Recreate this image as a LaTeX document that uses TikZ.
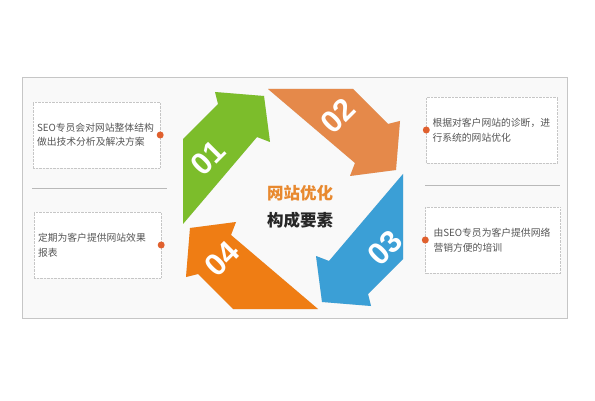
\documentclass[tikz,border=0pt]{standalone}
\usepackage{fontspec}
\usepackage{tikz}
\newfontfamily\cjk{Noto Sans CJK SC}
\setsansfont{Liberation Sans}
\usetikzlibrary{positioning}

\definecolor{arrowgreen}{HTML}{7CBD2B}
\definecolor{arrowsalmon}{HTML}{E5894A}
\definecolor{arrowblue}{HTML}{3B9FD6}
\definecolor{arroworange}{HTML}{EF7D14}
\definecolor{dotred}{HTML}{E0602E}
\definecolor{titleorange}{HTML}{E8892F}
\definecolor{textgray}{HTML}{555555}

\begin{document}
\begin{tikzpicture}[x=1pt,y=-1pt,
   font=\cjk,
   panel/.style={draw=gray!45,fill=gray!5,line width=0.8pt},
   note/.style={draw=gray!45,densely dotted,fill=white,minimum width=127pt,minimum height=66pt,
      text width=119pt,align=left,inner sep=4pt,text=textgray,
      font=\cjk\fontsize{9.8}{14.5}\selectfont},
   dot/.style={circle,fill=dotred,inner sep=0pt,minimum size=7pt},
   rule/.style={gray!55,line width=0.8pt},
   arrowshape/.style={insert path={(-110,25) -- (-110,-60) -- (-75,-95) -- (-78,-107)
      -- (-29,-103) -- (-23,-57) -- (-36,-62) -- cycle}},
   num/.style={text=white,font=\sffamily\bfseries\fontsize{31}{31}\selectfont,rotate=45,inner sep=0pt},
   title/.style={font=\cjk\bfseries\fontsize{16.5}{18}\selectfont}]
\fill[white] (0,0) rectangle (595,401);
\useasboundingbox (0,0) rectangle (595,401);
\draw[panel] (22,77) rectangle (567,318);

% cycle of arrows
\coordinate (ctr) at (293,199);
\foreach \ang in {0,-90,-180,-270}
   \fill[black!12,shift={(2,3)},shift={(ctr)},rotate=\ang,arrowshape];
\foreach \ang/\col in {0/arrowgreen,-90/arrowsalmon,-180/arrowblue,-270/arroworange}
   \fill[\col,shift={(ctr)},rotate=\ang,arrowshape];
\node[num] (n1) at (208,158) {01};
\node[num] (n2) at (338,116) {02};
\node[num] (n3) at (385,248) {03};
\node[num] (n4) at (222,259) {04};

\node[title,text=titleorange] (t1) at (300,193) {网站优化};
\node[title,text=black!85] (t2) at (300,220) {构成要素};

% notes
\node[note] (seo) at (96.5,135) {SEO专员会对网站整体结构\\做出技术分析及解决方案};
\node[note] (report) at (97.5,245) {定期为客户提供网站效果\\报表};
\node[note,inner sep=6pt] (diag) at (492,130) {根据对客户网站的诊断，进\\行系统的网站优化};
\node[note,inner sep=8pt] (train) at (493,240) {由SEO专员为客户提供网络\\营销方便的培训};
\node[dot] at (seo.east) {};
\node[dot] at (report.east) {};
\node[dot] at (diag.west) {};
\node[dot] at (train.west) {};

\coordinate (la) at (32,188);
\coordinate (lb) at (167,188);
\coordinate (ra) at (425,185);
\coordinate (rb) at (560,185);
\draw[rule] (la) -- (lb);
\draw[rule] (ra) -- (rb);
\end{tikzpicture}
\end{document}
